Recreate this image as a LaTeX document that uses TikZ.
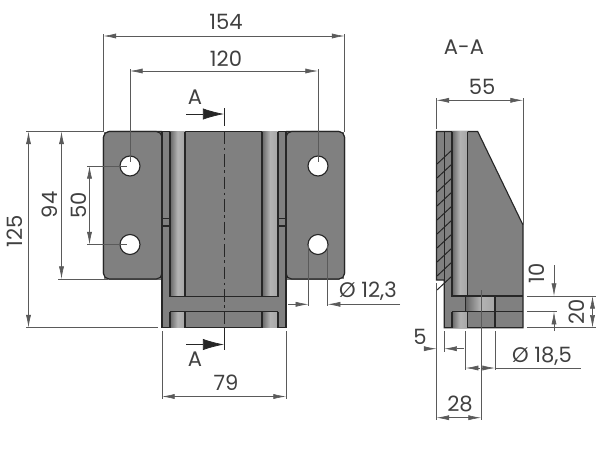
\documentclass[tikz,border=0pt]{standalone}
\usepackage{fontspec}
\setmainfont{Poppins}
\usetikzlibrary{arrows.meta}
\definecolor{steelfill}{RGB}{128,128,128}
\definecolor{dimgrey}{RGB}{90,90,90}
\definecolor{edgedark}{RGB}{38,38,38}
\tikzset{
  body/.style={fill=steelfill, draw=edgedark, line width=0.8pt},
  edge/.style={draw=edgedark, line width=0.8pt},
  bandl/.style={left color=steelfill!80!black, right color=steelfill!70!white, middle color=steelfill!60!white},
  dim/.style={draw=dimgrey, line width=0.45pt},
  dimtip/.style={dim, -{Latex[length=9pt, width=3.6pt]}},
  secarrow/.style={draw=edgedark, line width=0.5pt, -{Latex[length=15pt, width=8pt]}},
  lab/.style={text=black!75, font=\fontsize{15}{15}\selectfont, inner sep=0pt},
  hatchline/.style={draw=edgedark, line width=0.7pt}
}
\begin{document}
\begin{tikzpicture}[x=0.025cm, y=-0.025cm]
  \useasboundingbox (0,0) rectangle (600,450);
  % front view
  \draw[body, rounded corners=4pt] (162,131.5) -- (103.5,131.5) -- (103.5,279) -- (162,279);
  \draw[body, rounded corners=4pt] (286,131.5) -- (344.5,131.5) -- (344.5,279) -- (286,279);
  \fill[steelfill] (104,132) rectangle (344,278.5);
  \draw[body, rounded corners=4pt] (162,131.5) -- (103.5,131.5) -- (103.5,279) -- (162,279) -- cycle;
  \draw[body, rounded corners=4pt] (286,131.5) -- (344.5,131.5) -- (344.5,279) -- (286,279) -- cycle;
  \draw[body] (162,131.5) rectangle (286,327.5);
  \foreach \xa/\xb in {170/185, 262/278} {
    \shade[bandl] (\xa,131.5) rectangle (\xb,296.5);
    \shade[bandl] (\xa,311.5) rectangle (\xb,327.5);
    \draw[edge] (\xa,131.5) -- (\xa,296.5);
    \draw[edge] (\xb,131.5) -- (\xb,296.5);
    \draw[edge] (\xa,311.5) -- (\xa,327.5);
    \draw[edge] (\xb,311.5) -- (\xb,327.5);
  }
  \draw[edge] (170,296.5) -- (278,296.5);
  \draw[edge] (170,311.5) -- (278,311.5);
  \draw[edge] (162,218.5) -- (170,218.5);
  \draw[edge] (162,226) -- (170,226);
  \draw[edge] (278,218.5) -- (286,218.5);
  \draw[edge] (278,226) -- (286,226);
  \foreach \xa in {130,318} \foreach \ya in {166,244.5} {
    \draw[fill=white, edge] (\xa,\ya) circle (10);
  }
  % centre line
  \draw[dim, edgedark] (224,108) -- (224,126);
  \draw[dim, edgedark, line width=0.6pt, dash pattern=on 9pt off 2.5pt on 2pt off 2.5pt] (224,131.5) -- (224,330);
  \draw[dim, edgedark] (224,330) -- (224,350);
  % section arrows
  \coordinate (topa) at (224,114);
  \coordinate (bota) at (224,344.5);
  \draw[secarrow] (186,114) -- (topa);
  \draw[secarrow] (186,344.5) -- (bota);
  \node[lab] (laba) at (195,97) {A};
  \node[lab] (labb) at (195,359) {A};
  % dimensions front view
  \draw[dim] (103.5,34) -- (103.5,132);
  \draw[dim] (344.5,34) -- (344.5,132);
  \draw[dimtip] (224,36) -- (103.5,36);
  \draw[dimtip] (224,36) -- (344.5,36);
  \draw[dimtip] (224,71) -- (130,71);
  \draw[dimtip] (224,71) -- (318,71);
  \draw[dim] (130,69) -- (130,162);
  \draw[dim] (318,69) -- (318,162);
  \node[lab] (w154) at (226,22) {154};
  \node[lab] (w120) at (226,59) {120};
  \draw[dim] (26,131.5) -- (104,131.5);
  \draw[dim] (26,327.5) -- (158,327.5);
  \draw[dimtip] (28.5,230) -- (28.5,131.5);
  \draw[dimtip] (28.5,230) -- (28.5,327.5);
  \node[lab, rotate=90] (h125) at (15,231) {125};
  \draw[dim] (58,279) -- (108,279);
  \draw[dimtip] (61.5,205) -- (61.5,131.5);
  \draw[dimtip] (61.5,205) -- (61.5,279);
  \node[lab, rotate=90] (h94) at (50,205) {94};
  \draw[dim] (87,166) -- (127,166);
  \draw[dim] (87,244.5) -- (127,244.5);
  \draw[dimtip] (89.5,205) -- (89.5,166);
  \draw[dimtip] (89.5,205) -- (89.5,244.5);
  \node[lab, rotate=90] (h50) at (79,205) {50};
  \draw[dim] (162,331) -- (162,399);
  \draw[dim] (286,331) -- (286,399);
  \draw[dimtip] (224,396.5) -- (162,396.5);
  \draw[dimtip] (224,396.5) -- (286,396.5);
  \node[lab] (w79) at (226,383) {79};
  \draw[dim] (308.3,244.5) -- (308.3,306);
  \draw[dim] (327.7,244.5) -- (327.7,306);
  \draw[dimtip] (288,304.3) -- (308.3,304.3);
  \draw[dimtip] (400,304.3) -- (327.7,304.3);
  \node[lab] (d123) at (368,291) {Ø 12,3};
  % section view
  \node[lab] (secname) at (464,47) {A-A};
  \draw[body] (436.5,131.5) -- (477.7,131.5) -- (523,225) -- (523,327.7) -- (444.3,327.7) -- (444.3,280) -- (436.5,280) -- cycle;
  \shade[bandl] (452,131.5) rectangle (467.7,296);
  \shade[bandl] (452,311.7) rectangle (467.7,327.7);
  \shade[bandl] (465.7,296) rectangle (495,311.7);
  \draw[edge] (444.3,131.5) -- (444.3,280);
  \draw[edge] (452,131.5) -- (452,296) -- (523,296);
  \draw[edge] (452,311.7) -- (523,311.7);
  \draw[edge] (452,311.7) -- (452,327.7);
  \draw[edge] (467.7,131.5) -- (467.7,296);
  \draw[edge] (467.7,311.7) -- (467.7,327.7);
  \draw[edge] (495,296) -- (495,327.7);
  \draw[edge] (465.7,296) -- (465.7,311.7);
  \foreach \ya in {150,164,178,192,206,220,234,248,262,276} {
    \draw[hatchline] (437,\ya+14) -- (452,\ya);
  }
  % dimensions section view
  \draw[dim] (436.5,98) -- (436.5,129);
  \draw[dim] (523,98) -- (523,225);
  \draw[dimtip] (480,100.3) -- (436.5,100.3);
  \draw[dimtip] (480,100.3) -- (523,100.3);
  \node[lab] (w55) at (482,87) {55};
  \draw[dim] (527,296) -- (596,296);
  \draw[dim] (527,311.7) -- (557,311.7);
  \draw[dim] (527,327.7) -- (596,327.7);
  \draw[dimtip] (554,265) -- (554,296);
  \draw[dimtip] (554,331) -- (554,311.7);
  \node[lab, rotate=90] (h10) at (537,273) {10};
  \draw[dimtip] (592.5,312) -- (592.5,296);
  \draw[dimtip] (592.5,312) -- (592.5,327.7);
  \node[lab, rotate=90] (h20) at (577,312) {20};
  \draw[dim] (436.5,283) -- (436.5,420);
  \draw[dim] (444.3,331) -- (444.3,352);
  \draw[dimtip] (425,348.7) -- (436.5,348.7);
  \draw[dimtip] (464,348.7) -- (444.3,348.7);
  \node[lab] (w5) at (420,337) {5};
  \draw[dim] (465.7,331) -- (465.7,370);
  \draw[dim] (495,331) -- (495,370);
  \draw[dim] (481,290) -- (481,420);
  \draw[dimtip] (480,368) -- (465.7,368);
  \draw[dimtip] (481,368) -- (495,368);
  \draw[dim] (495,368) -- (581,368);
  \node[lab] (d185) at (542,356) {Ø 18,5};
  \draw[dimtip] (459,417.7) -- (436.5,417.7);
  \draw[dimtip] (459,417.7) -- (481,417.7);
  \node[lab] (w28) at (460,404) {28};
\end{tikzpicture}
\end{document}
